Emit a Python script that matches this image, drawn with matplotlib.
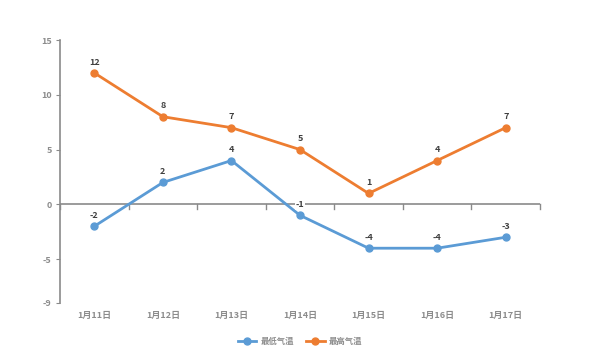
import matplotlib
matplotlib.use("Agg")
import matplotlib.pyplot as plt

plt.rcParams['font.family'] = ['Noto Sans CJK SC', 'DejaVu Sans']

categories = ["1月11日", "1月12日", "1月13日", "1月14日", "1月15日", "1月16日", "1月17日"]
low_temps = [-2, 2, 4, -1, -4, -4, -3]
high_temps = [12, 8, 7, 5, 1, 4, 7]
series_names = ["最低气温", "最高气温"]
y_ticks = [-9, -5, 0, 5, 10, 15]

blue = "#5b9bd5"
orange = "#ed7d31"
tick_color = "#8c8c8c"

fig = plt.figure(figsize=(6, 3.5), dpi=100)
ax = fig.add_axes([0.1, 0.1343, 0.8, 0.7514])
ax.patch.set_alpha(0)

x = list(range(len(categories)))
ax.set_xlim(-0.5, len(categories) - 0.5)
ax.set_ylim(-9, 15)

for t in y_ticks:
    if t == 0:
        continue
    ax.axhline(t, color="white", lw=1.2, zorder=1)
ax.axhline(0, color="#8a8a8a", lw=1.2, zorder=1)
for b in range(len(categories) + 1):
    ax.plot([b - 0.5, b - 0.5], [0, -0.4], color="#8a8a8a", lw=1, zorder=1, clip_on=False)

ax.plot(x, low_temps, color=blue, lw=2.0, marker="o", ms=5, label=series_names[0], zorder=3)
ax.plot(x, high_temps, color=orange, lw=2.0, marker="o", ms=5, label=series_names[1], zorder=3)

for xs, ys in ((x, low_temps), (x, high_temps)):
    for xi, yi in zip(xs, ys):
        ax.annotate(str(yi), (xi, yi), xytext=(0, 4.5), textcoords="offset points",
                    ha="center", va="bottom", fontsize=6.5, fontweight="bold", color="#404040",
                    bbox=dict(boxstyle="square,pad=0.1", fc="white", ec="none"), zorder=4)

for s in ["top", "right", "bottom"]:
    ax.spines[s].set_visible(False)
ax.spines["left"].set_color("#8a8a8a")
ax.spines["left"].set_linewidth(1.2)

ax.set_yticks(y_ticks)
ax.set_yticklabels([str(t) for t in y_ticks])
ax.tick_params(axis="y", length=3, color="#8a8a8a", labelsize=6.5, labelcolor=tick_color, pad=3)
ax.set_xticks(x)
ax.set_xticklabels(categories)
ax.tick_params(axis="x", length=0, labelsize=6.5, labelcolor=tick_color, pad=6)
for lab in ax.get_xticklabels() + ax.get_yticklabels():
    lab.set_fontweight("bold")

leg = fig.legend(loc="center", bbox_to_anchor=(0.5, 0.025), ncol=2, frameon=False,
                 fontsize=6, handlelength=2.2, columnspacing=1.5, handletextpad=0.5)
for t in leg.get_texts():
    t.set_color(tick_color)
    t.set_fontweight("bold")

fig.savefig("out.png", dpi=100, transparent=True)
